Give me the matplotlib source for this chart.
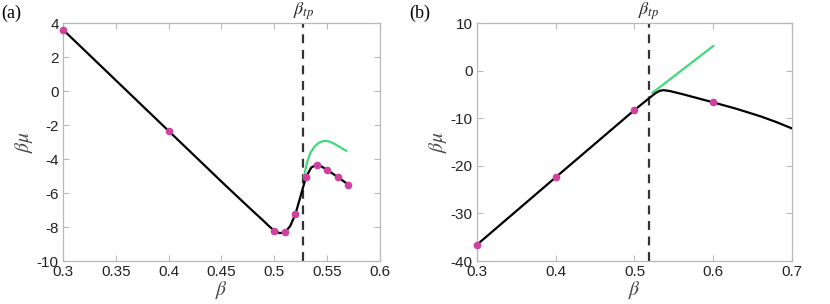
import numpy as np
import matplotlib.pyplot as plt

plt.rcParams['mathtext.fontset'] = 'stix'
plt.rcParams['font.family'] = ['Liberation Sans', 'DejaVu Sans']
plt.rcParams['axes.unicode_minus'] = False

# ---------------- panel (a) ----------------
a_beta_pts = [0.30, 0.40, 0.50, 0.51, 0.52, 0.53, 0.54, 0.55, 0.56, 0.57]
a_mu_pts = [3.61, -2.35, -8.22, -8.31, -7.24, -5.06, -4.35, -4.65, -5.06, -5.51]

a_beta_line = [0.30, 0.35, 0.40, 0.45, 0.47, 0.48, 0.49, 0.495, 0.50, 0.505,
               0.51, 0.515, 0.52, 0.525, 0.53, 0.535, 0.54, 0.545, 0.55, 0.555,
               0.56, 0.565, 0.57]
a_mu_line = [3.61, 0.63, -2.35, -5.33, -6.50, -7.08, -7.65, -7.95, -8.22, -8.36,
             -8.31, -7.95, -7.24, -6.15, -5.06, -4.50, -4.33, -4.45, -4.65, -4.85,
             -5.06, -5.28, -5.51]

a_beta_green = [0.528, 0.531, 0.534, 0.538, 0.542, 0.546, 0.549, 0.552, 0.556, 0.560, 0.564, 0.568]
a_mu_green = [-5.04, -4.20, -3.65, -3.27, -3.05, -2.95, -2.93, -2.97, -3.08, -3.22, -3.37, -3.51]

a_tp = 0.5275

# ---------------- panel (b) ----------------
b_beta_pts = [0.30, 0.40, 0.50, 0.60]
b_mu_pts = [-36.57, -22.40, -8.28, -6.67]

b_beta_line = [0.30, 0.40, 0.50, 0.52, 0.527, 0.532, 0.537, 0.545, 0.56, 0.60, 0.63, 0.66, 0.68, 0.70]
b_mu_line = [-36.57, -22.40, -8.28, -5.60, -4.70, -4.25, -4.10, -4.30, -4.90, -6.67, -8.05, -9.60, -10.80, -12.15]

b_beta_green = [0.523, 0.60]
b_mu_green = [-4.64, 5.17]

b_tp = 0.5185

black = '#000000'
green = '#3ddc78'
magenta = '#d0409e'
spine_gray = '#b8b8b8'


def style(ax):
    for s in ax.spines.values():
        s.set_color(spine_gray)
        s.set_linewidth(0.9)
    ax.tick_params(direction='in', top=True, right=True, length=4,
                   color=spine_gray, labelsize=11, labelcolor='#222222', pad=3)
    ax.set_xlabel(r'$\beta$', fontsize=14, color='#444444', labelpad=0)
    ax.set_ylabel(r'$\beta\mu$', fontsize=14, color='#444444', labelpad=1)


fig = plt.figure(figsize=(8.3, 3.04), dpi=100)

ax1 = fig.add_axes([0.0759, 0.1414, 0.3819, 0.7829])
ax1.axvline(a_tp, color='#333333', linestyle=(0, (4, 3)), linewidth=1.6, zorder=1)
ax1.plot(a_beta_green, a_mu_green, color=green, linewidth=1.6, zorder=2)
ax1.plot(a_beta_line, a_mu_line, color=black, linewidth=1.6, zorder=3)
ax1.plot(a_beta_pts, a_mu_pts, 'o', color=magenta, markersize=4.5, zorder=4, clip_on=False)
ax1.set_xlim(0.3, 0.6)
ax1.set_ylim(-10, 4)
ax1.set_xticks([0.3, 0.35, 0.4, 0.45, 0.5, 0.55, 0.6])
ax1.set_xticklabels(['0.3', '0.35', '0.4', '0.45', '0.5', '0.55', '0.6'])
ax1.set_yticks(np.arange(-10, 5, 2))
style(ax1)
ax1.text(a_tp, 4.05, r'$\beta_{tp}$', fontsize=13, ha='center', va='bottom', color='#222222')
fig.text(0.002, 0.985, '(a)', fontsize=13, family='Liberation Serif', va='top', ha='left')

ax2 = fig.add_axes([0.5747, 0.1414, 0.3795, 0.7829])
ax2.axvline(b_tp, color='#333333', linestyle=(0, (4, 3)), linewidth=1.6, zorder=1)
ax2.plot(b_beta_green, b_mu_green, color=green, linewidth=1.6, zorder=2)
ax2.plot(b_beta_line, b_mu_line, color=black, linewidth=1.6, zorder=3)
ax2.plot(b_beta_pts, b_mu_pts, 'o', color=magenta, markersize=4.5, zorder=4, clip_on=False)
ax2.set_xlim(0.3, 0.7)
ax2.set_ylim(-40, 10)
ax2.set_xticks([0.3, 0.4, 0.5, 0.6, 0.7])
ax2.set_xticklabels(['0.3', '0.4', '0.5', '0.6', '0.7'])
ax2.set_yticks(np.arange(-40, 11, 10))
style(ax2)
ax2.text(b_tp, 10.2, r'$\beta_{tp}$', fontsize=13, ha='center', va='bottom', color='#222222')
fig.text(0.493, 0.985, '(b)', fontsize=13, family='Liberation Serif', va='top', ha='left')

fig.savefig('out.png', dpi=100)
